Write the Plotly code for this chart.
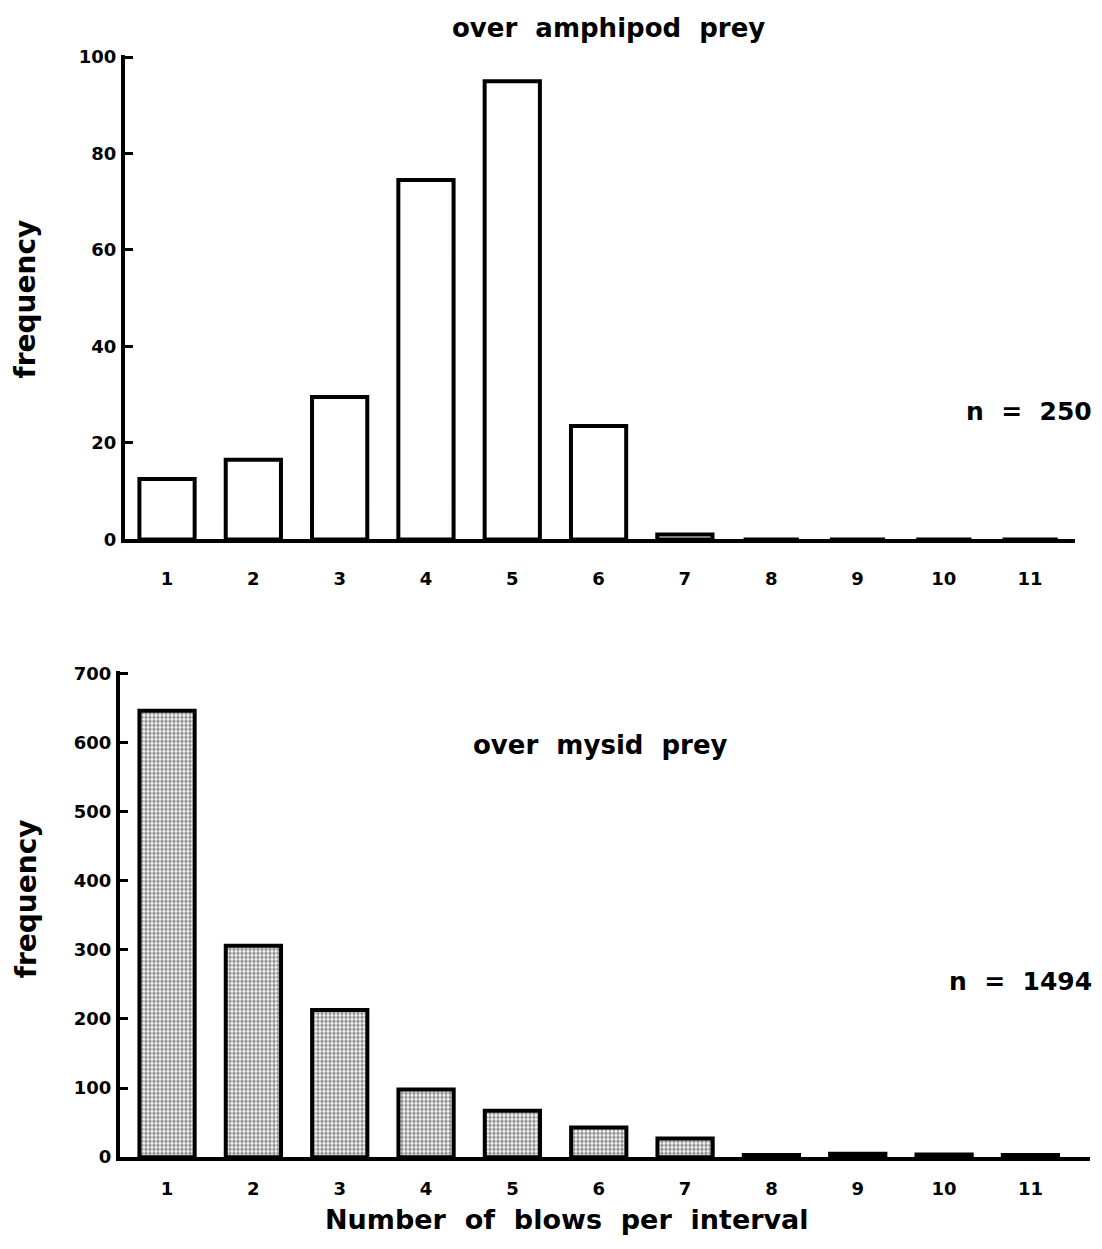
import plotly.graph_objects as go

categories = [1, 2, 3, 4, 5, 6, 7, 8, 9, 10, 11]
tick_labels = ["1", "2", "3", "4", "5", "6", "7", "8", "9", "10", "11"]
amphipod_freq = [12.5, 16.5, 29.5, 74.5, 95, 23.5, 1, 0, 0, 0, 0]
mysid_freq = [646, 306, 213, 98, 67, 43, 27, 3, 5, 4, 3]

OFF = 8  # page body margin
W, H = 1102 - 2 * OFF, 1249 - 2 * OFF
FONT = "DejaVu Sans, Liberation Sans, Arial, sans-serif"

def px_x(x):
    return (x - OFF) / W

def px_y(y):
    # compensate observed vertical mapping of the rendered page
    y_int = (y - 9.5) / 0.985
    return 1 - (y_int - OFF) / H

fig = go.Figure()

fig.add_trace(go.Bar(
    x=categories, y=amphipod_freq, width=0.64,
    marker=dict(color="white", line=dict(color="black", width=4)),
    xaxis="x", yaxis="y", showlegend=False,
))
fig.add_trace(go.Bar(
    x=categories, y=mysid_freq, width=0.64,
    marker=dict(color="white", line=dict(color="black", width=4),
                pattern=dict(shape=".", fgcolor="#1a1a1a", bgcolor="white", size=4, solidity=0.6)),
    xaxis="x2", yaxis="y2", showlegend=False,
))

tickfont = dict(family=FONT, size=18, color="black", weight="bold")
axis_common = dict(showline=True, linecolor="black", linewidth=4, showgrid=False,
                   zeroline=False, tickfont=tickfont, mirror=False)

fig.update_layout(
    width=W, height=H,
    margin=dict(l=0, r=0, t=0, b=0),
    plot_bgcolor="white", paper_bgcolor="white",
    xaxis=dict(domain=[px_x(125), px_x(1075)], range=[0.513, 11.52], tickvals=categories,
               ticktext=tick_labels, ticks="", ticklabelstandoff=20, anchor="y", **axis_common),
    yaxis=dict(domain=[px_y(540), px_y(55)], range=[0, 100.5], tickvals=[0, 20, 40, 60, 80, 100],
               ticks="inside", ticklen=8, tickwidth=3, tickcolor="black", anchor="x",
               ticklabelstandoff=1, **axis_common),
    xaxis2=dict(domain=[px_x(120), px_x(1090)], range=[0.455, 11.69], tickvals=categories,
                ticktext=tick_labels, ticks="", ticklabelstandoff=12, anchor="y2", **axis_common),
    yaxis2=dict(domain=[px_y(1158), px_y(672)], range=[0, 703], tickvals=[0, 100, 200, 300, 400, 500, 600, 700],
                ticks="inside", ticklen=8, tickwidth=3, tickcolor="black", anchor="x2",
                ticklabelstandoff=1, **axis_common),
)

def ann(text, x, y, size, angle=0, xanchor="center"):
    fig.add_annotation(text=text, x=px_x(x), y=px_y(y), xref="paper", yref="paper",
                       showarrow=False, textangle=angle, xanchor=xanchor, yanchor="middle",
                       font=dict(family=FONT, size=size, color="black", weight="bold"))

ann("over  amphipod  prey", 608, 28, 26)
ann("over  mysid  prey", 600, 746, 26)
ann("n  =  250", 1094, 412, 25, xanchor="right")
ann("n  =  1494", 1094, 982, 25, xanchor="right")
ann("frequency", 26, 300, 28, angle=-90)
ann("frequency", 26, 900, 28, angle=-90)
ann("Number  of  blows  per  interval", 567, 1220, 27)

fig.write_html("out.html")
